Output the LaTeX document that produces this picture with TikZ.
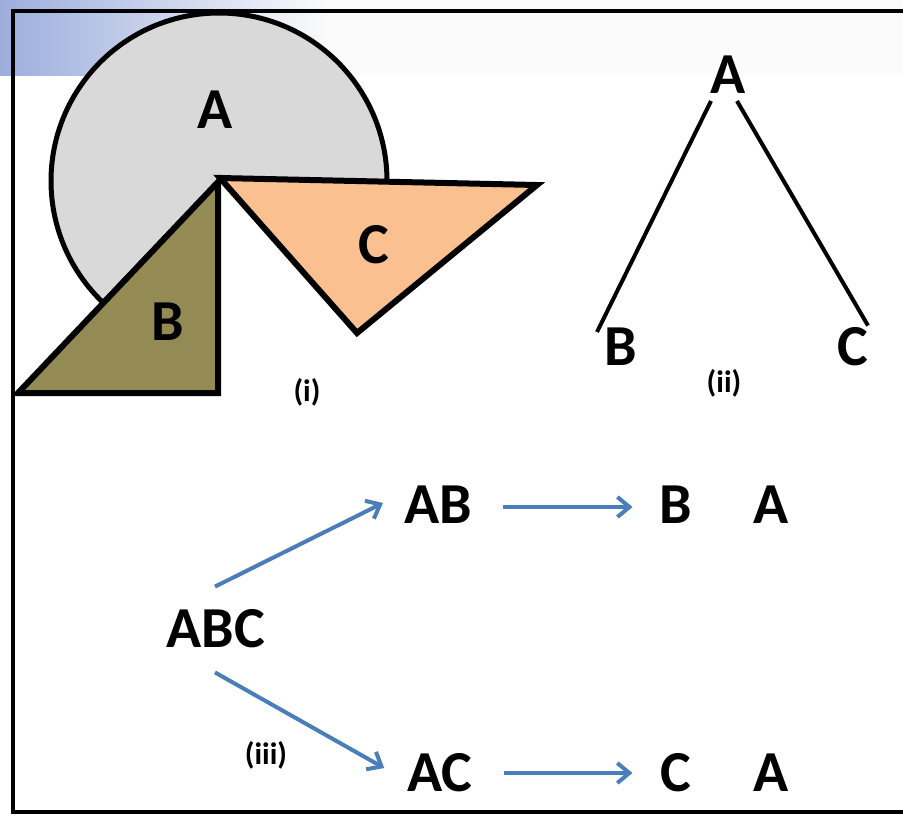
\documentclass[tikz,border=0pt]{standalone}
\usepackage{fontspec}
\setmainfont{Carlito}
\usetikzlibrary{arrows.meta,calc}
\definecolor{arrblue}{HTML}{4A7EBB}
\definecolor{olivefill}{HTML}{948A54}
\definecolor{peach}{HTML}{FAC090}
\definecolor{lgray}{HTML}{D9D9D9}
\definecolor{gradblue}{HTML}{9DAEDD}
\begin{document}
\begin{tikzpicture}[x=1pt,y=-1pt,
  big/.style={font=\fontsize{58}{62}\selectfont\bfseries, inner sep=0pt},
  small/.style={font=\fontsize{31}{34}\selectfont\bfseries, inner sep=0pt},
  arr/.style={draw=arrblue, line width=4pt, -{Straight Barb[length=12pt,width=20pt]}},
  shapeline/.style={draw=black, line width=6pt},
  treeline/.style={draw=black, line width=4pt}
]
\useasboundingbox (0,0) rectangle (903,815);
\fill[white] (0,0) rectangle (903,815);
\shade[left color=gradblue, right color=gray!3] (0,0) rectangle (330,75);
\fill[gray!3] (330,0) rectangle (903,75);
\draw[line width=3.5pt] (903,11) -- (13,11) -- (13,812) -- (903,812);

% (i)
\filldraw[fill=lgray, draw=black, line width=5pt] (219,181) -- ++(1:168) arc[start angle=1, end angle=-226.4, radius=168] -- cycle;
\filldraw[fill=olivefill, shapeline] (218,182) -- (218,393) -- (18,393) -- cycle;
\filldraw[fill=peach, shapeline] (220,178) -- (537,185) -- (357,333) -- cycle;
\node[big] (lA) at (215,110) {A};
\node[big] (lB) at (168,322) {B};
\node[big] (lC) at (374,245) {C};
\node[small] (li) at (307,392) {(i)};

% (ii)
\node[big] (tA) at (728,75) {A};
\node[big] (tB) at (621,347) {B};
\node[big] (tC) at (853,347) {C};
\node[small] (lii) at (724,383) {(ii)};
\draw[treeline] ($(tA.south)+(-17,7)$) -- ($(tB.north)+(-24,4)$);
\draw[treeline] ($(tA.south)+(9,7)$) -- ($(tC.north)+(15,-2)$);

% (iii)
\node[big] (ABC) at (216,629) {ABC};
\node[big] (AB) at (438,505) {AB};
\node[big] (AC) at (440,773) {AC};
\node[big] (B1) at (676,505) {B};
\node[big] (A1) at (771,505) {A};
\node[big] (C1) at (676,773) {C};
\node[big] (A2) at (771,773) {A};
\node[small] (liii) at (266,755) {(iii)};
\draw[arr] ($(ABC.north)+(-1,-23)$) -- ($(AB.west)+(-21,-2)$);
\draw[arr] ($(ABC.south)+(-1,24)$) -- ($(AC.west)+(-23,-5)$);
\draw[arr] ($(AB.east)+(31,2)$) -- ($(B1.west)+(-27,2)$);
\draw[arr] ($(AC.east)+(31,0)$) -- ($(C1.west)+(-28,0)$);
\end{tikzpicture}
\end{document}
